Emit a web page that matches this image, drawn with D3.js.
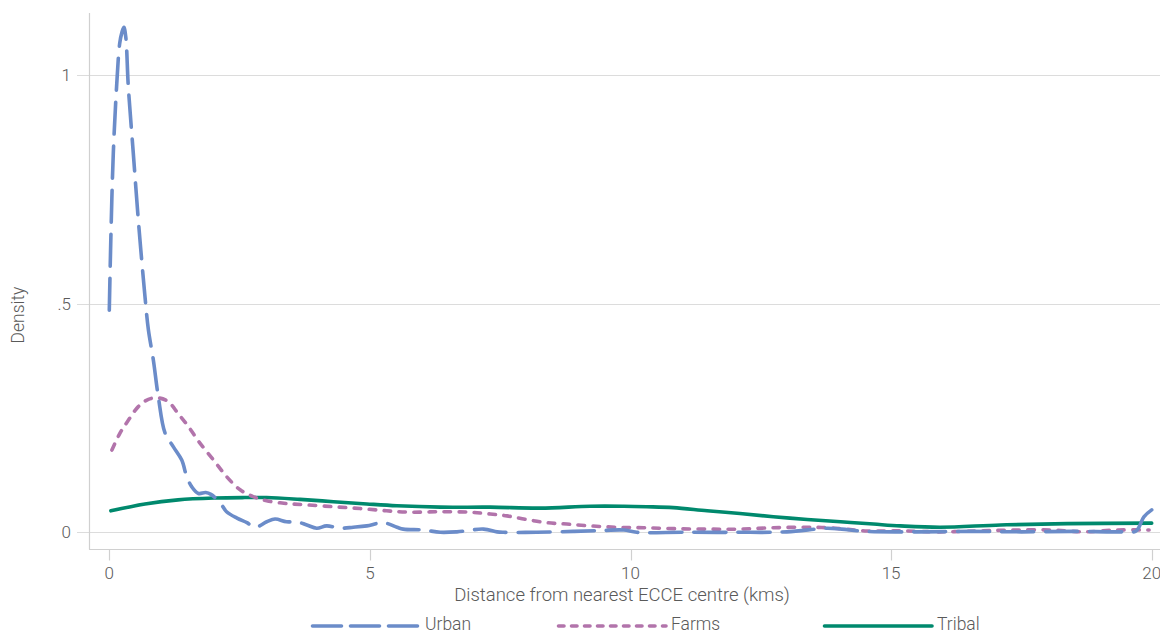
<!DOCTYPE html>
<html>
<head>
<meta charset="UTF-8">
<title>Density of distance to ECCE centre</title>
<script src="https://d3js.org/d3.v7.min.js"></script>
<style>
	body { margin: 0; background: #fff; }
	svg { display: block; font-family: "Helvetica Neue", Roboto, "Liberation Sans", sans-serif; }
	.lbl { fill: #5a5a5a; font-weight: 300; }
</style>
</head>
<body>
	<svg id="chart"></svg>
	<script type="text/javascript">
		// values: [distance km, density]
		var urban = [[0, 0.486], [0.03, 0.645], [0.077, 0.83], [0.14, 0.975], [0.2, 1.07], [0.245, 1.095],
			[0.28, 1.105], [0.315, 1.085], [0.365, 0.975], [0.46, 0.83], [0.557, 0.683], [0.685, 0.515],
			[0.75, 0.443], [0.845, 0.377],
			[0.94, 0.297], [1.07, 0.217], [1.23, 0.187], [1.39, 0.158], [1.485, 0.122], [1.58, 0.10],
			[1.71, 0.085], [1.85, 0.087], [1.95, 0.083], [2.13, 0.064], [2.25, 0.045], [2.45, 0.031],
			[2.64, 0.021], [2.80, 0.011], [3.02, 0.023], [3.18, 0.029], [3.40, 0.023], [3.60, 0.023],
			[3.79, 0.016], [3.98, 0.009], [4.17, 0.014], [4.43, 0.009], [4.68, 0.011], [4.94, 0.014],
			[5.26, 0.021], [5.52, 0.011], [5.64, 0.007], [6.03, 0.005], [6.35, 0.0], [6.67, 0.001],
			[7.18, 0.007], [7.44, 0.001], [7.56, 0.0], [8.2, 0.0], [8.9, 0.002], [9.48, 0.004],
			[9.87, 0.005], [10.12, 0.0], [11.0, 0.0], [12.0, 0.0], [13.0, 0.001], [13.77, 0.009],
			[14.05, 0.007], [14.5, 0.002], [15.5, 0.001], [16.5, 0.002], [17.5, 0.001], [18.5, 0.002],
			[19.4, 0.001], [19.7, 0.003], [19.85, 0.034], [20, 0.049]];

		var farms = [[0.05, 0.18], [0.205, 0.217], [0.365, 0.245], [0.557, 0.275], [0.75, 0.291],
			[0.94, 0.294], [1.13, 0.286], [1.32, 0.26], [1.52, 0.231], [1.72, 0.198], [2.0, 0.158],
			[2.25, 0.122], [2.51, 0.093], [2.76, 0.078], [3.02, 0.069], [3.40, 0.063], [3.79, 0.060],
			[4.30, 0.056], [4.81, 0.052], [5.32, 0.047], [5.77, 0.044], [6.35, 0.045], [6.92, 0.044],
			[7.31, 0.040], [7.63, 0.036], [8.01, 0.028], [8.40, 0.021], [8.78, 0.018], [9.23, 0.014],
			[9.74, 0.011], [10.25, 0.010], [10.82, 0.008], [11.47, 0.007], [12.1, 0.007], [12.74, 0.010],
			[13.39, 0.011], [13.77, 0.010], [14.12, 0.007], [14.54, 0.003], [15.18, 0.003], [15.94, 0.001],
			[16.71, 0.003], [17.35, 0.005], [18.1, 0.005], [18.7, 0.001], [19.34, 0.005], [19.95, 0.005]];

		var tribal = [[0.03, 0.047], [0.685, 0.062], [1.32, 0.071], [2.03, 0.075], [2.6, 0.076],
			[3.02, 0.076], [3.66, 0.072], [4.30, 0.067], [4.94, 0.062], [5.52, 0.058], [6.35, 0.055],
			[7.31, 0.055], [8.27, 0.053], [9.23, 0.057], [9.87, 0.057], [10.31, 0.056], [10.82, 0.054],
			[11.47, 0.047], [12.1, 0.041], [12.74, 0.034], [13.39, 0.028], [14.03, 0.023], [14.66, 0.018],
			[15.18, 0.014], [15.94, 0.011], [17.1, 0.016], [18.38, 0.019], [20, 0.02]];

		var seriesNames = ["Urban", "Farms", "Tribal"];
		var seriesData = [urban, farms, tribal];
		var xTicks = [0, 5, 10, 15, 20];
		var yTicks = [0, 0.5, 1];
		var yTickLabels = ["0", ".5", "1"];

		var width = 1160, height = 634;
		var colors = ["#6b8cc9", "#b274ab", "#00896d"];
		var dashes = ["32,12", "6.5,8.5", null];
		var legendDashes = ["29,9", "5.5,7.5", null];

		var svg = d3.select("#chart").attr("width", width).attr("height", height);

		var x = d3.scaleLinear().domain([0, 20]).range([109.3, 1151.7]);
		var y = d3.scaleLinear().domain([0, 1]).range([532.3, 75.3]);

		var axisLeft = 89, axisBottom = 549.5, plotTop = 13;

		// grid lines (they stick out past the y axis as tick marks)
		svg.selectAll("line.grid").data(yTicks).enter().append("line")
			.attr("class", "grid")
			.attr("x1", axisLeft - 12).attr("x2", width)
			.attr("y1", function(d) { return Math.round(y(d)) + 0.5; })
			.attr("y2", function(d) { return Math.round(y(d)) + 0.5; })
			.attr("stroke", "#dcdcdc").attr("stroke-width", 1);

		// axis lines
		svg.append("line").attr("x1", axisLeft + 0.5).attr("x2", axisLeft + 0.5)
			.attr("y1", plotTop).attr("y2", axisBottom)
			.attr("stroke", "#d0d0d0").attr("stroke-width", 1.2);
		svg.append("line").attr("x1", axisLeft).attr("x2", width)
			.attr("y1", axisBottom).attr("y2", axisBottom)
			.attr("stroke", "#d0d0d0").attr("stroke-width", 1.2);

		svg.selectAll("line.xtick").data(xTicks).enter().append("line")
			.attr("class", "xtick")
			.attr("x1", function(d) { return Math.round(x(d)) + 0.5; })
			.attr("x2", function(d) { return Math.round(x(d)) + 0.5; })
			.attr("y1", axisBottom).attr("y2", axisBottom + 11)
			.attr("stroke", "#d0d0d0").attr("stroke-width", 1.2);

		svg.selectAll("text.xlab").data(xTicks).enter().append("text")
			.attr("class", "lbl xlab")
			.attr("x", function(d) { return x(d); })
			.attr("y", 579)
			.attr("text-anchor", "middle")
			.style("font-size", "17px")
			.text(function(d) { return d; });

		svg.selectAll("text.ylab").data(yTicks).enter().append("text")
			.attr("class", "lbl ylab")
			.attr("x", 71)
			.attr("y", function(d) { return y(d) + 6; })
			.attr("text-anchor", "end")
			.style("font-size", "17px")
			.text(function(d, i) { return yTickLabels[i]; });

		svg.append("text").attr("class", "lbl")
			.attr("transform", "translate(24," + 315 + ") rotate(-90)")
			.attr("text-anchor", "middle")
			.style("font-size", "17.5px")
			.text("Density");

		svg.append("text").attr("class", "lbl")
			.attr("x", 622).attr("y", 601)
			.attr("text-anchor", "middle")
			.style("font-size", "18.5px")
			.text("Distance from nearest ECCE centre (kms)");

		var line = d3.line()
			.x(function(d) { return x(d[0]); })
			.y(function(d) { return y(d[1]); })
			.curve(d3.curveCatmullRom.alpha(0.5));

		// draw tribal first so the dashed ones sit on top
		[2, 1, 0].forEach(function(i)
		{
			svg.append("path")
				.datum(seriesData[i])
				.attr("d", line)
				.attr("fill", "none")
				.attr("stroke", colors[i])
				.attr("stroke-width", 3.6)
				.attr("stroke-linecap", "round")
				.attr("stroke-linejoin", "round")
				.attr("stroke-dasharray", dashes[i]);
		});

		// legend
		var legendX = [311, 557, 823];
		var legend = svg.selectAll("g.legend").data(seriesNames).enter().append("g")
			.attr("class", "legend")
			.attr("transform", function(d, i) { return "translate(" + legendX[i] + ",626)"; });

		legend.append("line")
			.attr("x1", 1.5).attr("x2", 109)
			.attr("y1", 0).attr("y2", 0)
			.attr("stroke", function(d, i) { return colors[i]; })
			.attr("stroke-width", 3.6)
			.attr("stroke-linecap", "round")
			.attr("stroke-dasharray", function(d, i) { return legendDashes[i]; });

		legend.append("text").attr("class", "lbl")
			.attr("x", 114).attr("y", 4)
			.style("font-size", "17.5px")
			.text(function(d) { return d; });
	</script>
</body>
</html>
